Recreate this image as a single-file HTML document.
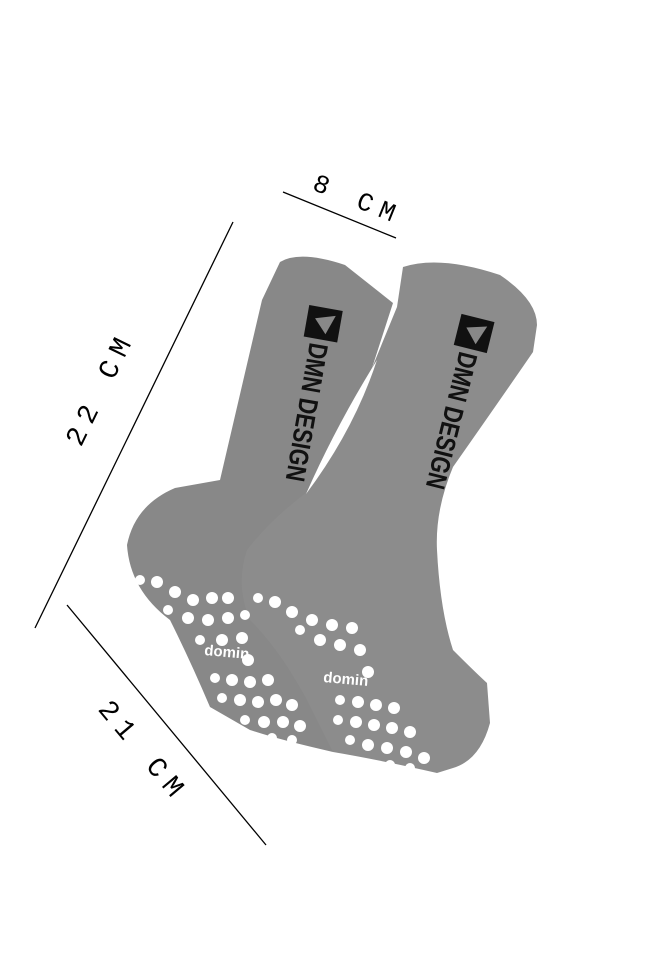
<!DOCTYPE html>
<html><head><style>
html,body{margin:0;padding:0;background:#fff;}
svg{display:block;}
.dim{font-family:"Liberation Mono",monospace;}
.logo{font-family:"Liberation Sans",sans-serif;font-weight:bold;}
</style></head><body>
<svg width="648" height="974" viewBox="0 0 648 974">
<rect width="648" height="974" fill="#fff"/>
<line x1="283" y1="192" x2="396" y2="238" stroke="#000" stroke-width="1.3"/>
<line x1="233" y1="222" x2="35" y2="628" stroke="#000" stroke-width="1.3"/>
<line x1="67" y1="605" x2="266" y2="845" stroke="#000" stroke-width="1.3"/>
<text class="dim" x="355" y="207" font-size="26" transform="rotate(22 355 207)" text-anchor="middle" letter-spacing="8">8 CM</text>
<text class="dim" x="108" y="392" font-size="28" transform="rotate(-64 108 392)" text-anchor="middle" letter-spacing="8">22 CM</text>
<text class="dim" x="137" y="757" font-size="28" transform="rotate(50 137 757)" text-anchor="middle" letter-spacing="8">21 CM</text>
<path d="M280,262 Q300,250 345,265 L393,303 L372,368 L307,492 L333,752 Q280,740 250,730 L210,707 Q190,660 170,620 Q130,590 127,545 Q135,505 175,488 L220,480 L262,300 Z" fill="#888"/>
<path d="M403,267 Q440,255 500,275 Q537,300 537,325 L533,352 Q500,400 453,467 Q435,510 437,550 Q440,610 453,650 Q475,672 487,683 L490,723 Q480,760 453,768 L437,773 Q380,760 333,752 L307,700 Q280,650 250,620 Q235,585 247,550 Q270,520 307,492 L372,368 L397,307 Z" fill="#8c8c8c"/>
<path d="M377,360 Q336,426 306,494 Q354,430 377,360 Z" fill="#fff"/>
<g transform="translate(326,308) rotate(100)">
<rect x="0" y="-17" width="32" height="34" fill="#111"/>
<path d="M6,-11 L26,-4 L12,9 Z" fill="#888"/>
<text class="logo" x="36" y="10" font-size="27" fill="#111" textLength="140" lengthAdjust="spacingAndGlyphs">DMN DESIGN</text>
</g>
<g transform="translate(478,318) rotate(104)">
<rect x="0" y="-17" width="32" height="34" fill="#111"/>
<path d="M6,-11 L26,-4 L12,9 Z" fill="#888"/>
<text class="logo" x="36" y="10" font-size="27" fill="#111" textLength="140" lengthAdjust="spacingAndGlyphs">DMN DESIGN</text>
</g>
<g fill="#fff">
<circle cx="140" cy="580" r="5"/><circle cx="157" cy="582" r="6"/><circle cx="175" cy="592" r="6"/><circle cx="193" cy="600" r="6"/><circle cx="212" cy="598" r="6"/><circle cx="228" cy="598" r="6"/>
<circle cx="168" cy="610" r="5"/><circle cx="188" cy="618" r="6"/><circle cx="208" cy="620" r="6"/><circle cx="228" cy="618" r="6"/><circle cx="245" cy="615" r="5"/>
<circle cx="200" cy="640" r="5"/><circle cx="222" cy="640" r="6"/><circle cx="242" cy="638" r="6"/><circle cx="248" cy="660" r="6"/>
<circle cx="215" cy="678" r="5"/><circle cx="232" cy="680" r="6"/><circle cx="250" cy="682" r="6"/><circle cx="268" cy="680" r="6"/>
<circle cx="222" cy="698" r="5"/><circle cx="240" cy="700" r="6"/><circle cx="258" cy="702" r="6"/><circle cx="276" cy="700" r="6"/><circle cx="292" cy="705" r="6"/>
<circle cx="245" cy="720" r="5"/><circle cx="264" cy="722" r="6"/><circle cx="283" cy="722" r="6"/><circle cx="300" cy="726" r="6"/><circle cx="272" cy="738" r="5"/><circle cx="292" cy="740" r="5"/>
<circle cx="258" cy="598" r="5"/><circle cx="275" cy="602" r="6"/><circle cx="292" cy="612" r="6"/><circle cx="312" cy="620" r="6"/><circle cx="332" cy="625" r="6"/><circle cx="352" cy="628" r="6"/>
<circle cx="300" cy="630" r="5"/><circle cx="320" cy="640" r="6"/><circle cx="340" cy="645" r="6"/><circle cx="360" cy="650" r="6"/><circle cx="368" cy="672" r="6"/>
<circle cx="340" cy="700" r="5"/><circle cx="358" cy="702" r="6"/><circle cx="376" cy="705" r="6"/><circle cx="394" cy="708" r="6"/>
<circle cx="338" cy="720" r="5"/><circle cx="356" cy="722" r="6"/><circle cx="374" cy="725" r="6"/><circle cx="392" cy="728" r="6"/><circle cx="410" cy="732" r="6"/>
<circle cx="350" cy="740" r="5"/><circle cx="368" cy="745" r="6"/><circle cx="387" cy="748" r="6"/><circle cx="406" cy="752" r="6"/><circle cx="424" cy="758" r="6"/><circle cx="390" cy="765" r="5"/><circle cx="410" cy="768" r="5"/>
</g>
<text class="logo" x="204" y="655" font-size="15" fill="#fff" transform="rotate(5 204 655)">domin</text>
<text class="logo" x="323" y="682" font-size="15" fill="#fff" transform="rotate(5 323 682)">domin</text>
</svg>
</body></html>
